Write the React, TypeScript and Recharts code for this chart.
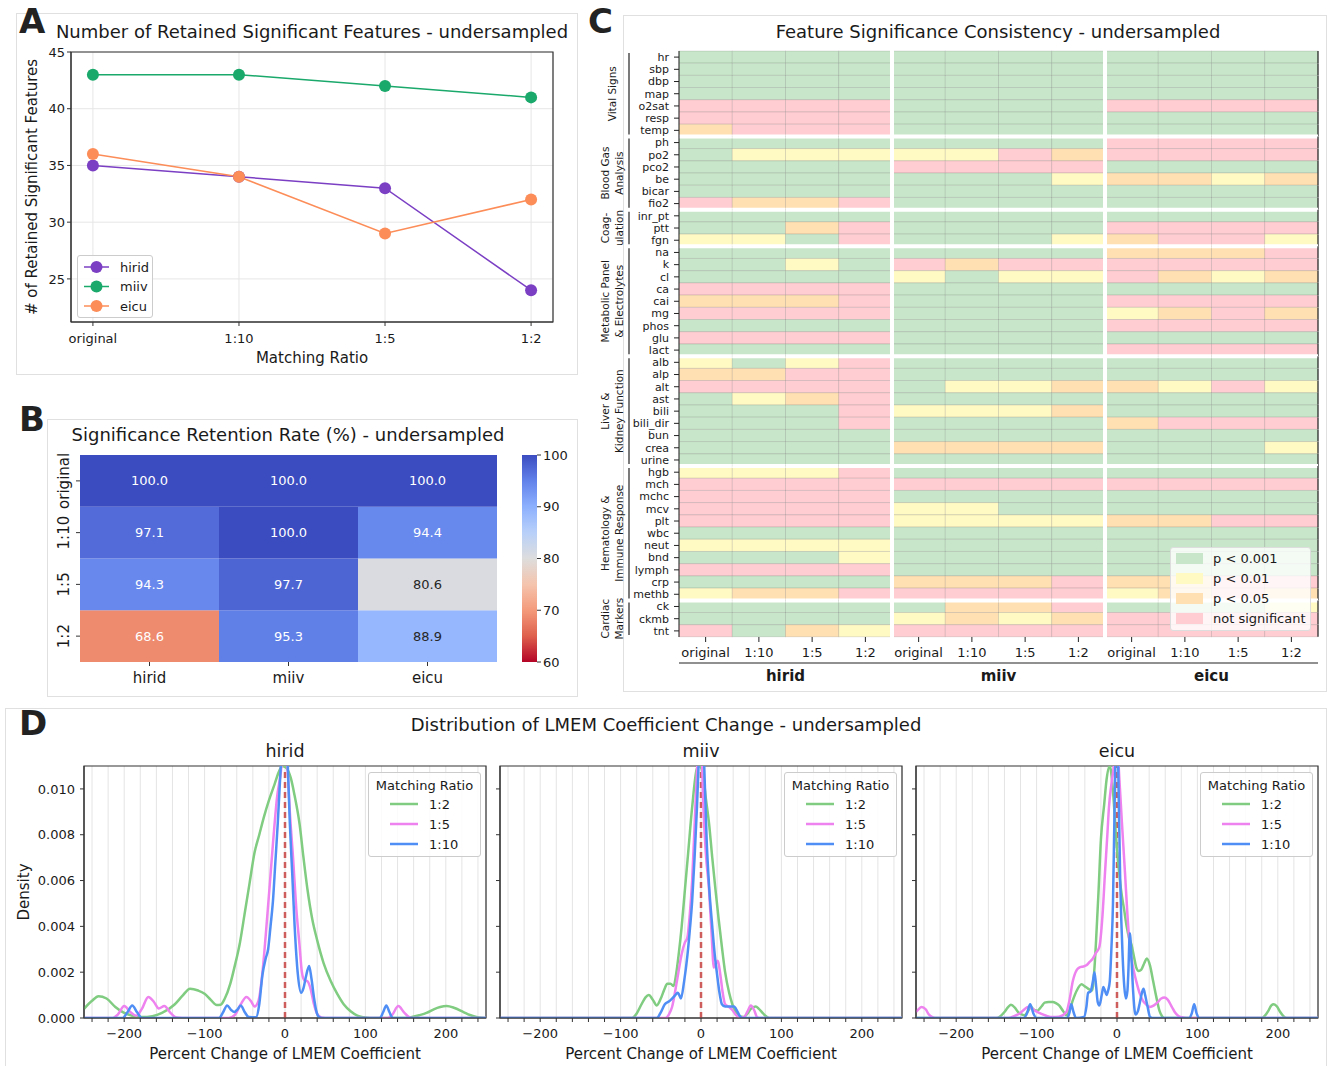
import React from 'react';
import {
  LineChart, Line, XAxis, YAxis, CartesianGrid, BarChart, Bar, Cell, LabelList,
  ReferenceLine, ReferenceArea,
} from 'recharts';

const FONT = '"DejaVu Sans", "Liberation Sans", Arial, sans-serif';
const TXT = '#1a1a1a';

// ---------------- Panel A data ----------------
const ratioLabels = ['original', '1:10', '1:5', '1:2'];
const hiridRetained = [35, 34, 33, 24];
const miivRetained = [43, 43, 42, 41];
const eicuRetained = [36, 34, 29, 32];
const lineColors = ['#7b3fc4', '#1aa86b', '#fc8d59'];

// ---------------- Panel B data ----------------
const datasetNames = ['hirid', 'miiv', 'eicu'];
const rateOriginal = [100.0, 100.0, 100.0];
const rate1to10 = [97.1, 100.0, 94.4];
const rate1to5 = [94.3, 97.7, 80.6];
const rate1to2 = [68.6, 95.3, 88.9];
const colorbarTicks = [100, 90, 80, 70, 60];

// ---------------- Panel C data ----------------
const featureNames = ['hr', 'sbp', 'dbp', 'map', 'o2sat', 'resp', 'temp', 'ph', 'po2', 'pco2', 'be', 'bicar', 'fio2',
  'inr_pt', 'ptt', 'fgn', 'na', 'k', 'cl', 'ca', 'cai', 'mg', 'phos', 'glu', 'lact', 'alb', 'alp', 'alt', 'ast', 'bili',
  'bili_dir', 'bun', 'crea', 'urine', 'hgb', 'mch', 'mchc', 'mcv', 'plt', 'wbc', 'neut', 'bnd', 'lymph', 'crp', 'methb',
  'ck', 'ckmb', 'tnt'];
const groupLabels = [['Vital Signs'], ['Blood Gas', 'Analysis'], ['Coag-', 'ulation'], ['Metabolic Panel', '& Electrolytes'],
  ['Liver &', 'Kidney Function'], ['Hematology &', 'Immune Response'], ['Cardiac', 'Markers']];
const groupSizes = [7, 6, 3, 9, 9, 11, 3];
// G: p<0.001, Y: p<0.01, O: p<0.05, R: not significant ; columns original, 1:10, 1:5, 1:2
const hiridSignificance = ['GGGG', 'GGGG', 'GGGG', 'GGGG', 'RRRR', 'RRRR', 'ORRR', 'GGGG', 'GYYY', 'GGGG', 'GGGG', 'GGGG', 'ROOR',
  'GGGG', 'GGOR', 'YYGR', 'GGGG', 'GGYG', 'GGGG', 'RRRR', 'OOOR', 'RRRR', 'GGGG', 'RRRR', 'GGGG', 'YGYR', 'OORR', 'RRRR', 'GYOR',
  'GGGR', 'GGGR', 'GGGG', 'GGGG', 'GGGG', 'YYYR', 'RRRR', 'RRRR', 'RRRR', 'RRRR', 'GGGG', 'YYYY', 'GGGY', 'RRRR', 'GGGG', 'YOOR',
  'GGGG', 'GGGG', 'RGOY'];
const miivSignificance = ['GGGG', 'GGGG', 'GGGG', 'GGGG', 'GGGG', 'GGGG', 'GGGG', 'GGGG', 'YYRO', 'RRRR', 'GGGY', 'GGGG', 'GGGG',
  'GGGG', 'GGGG', 'GGGY', 'GGGG', 'RORR', 'YGYY', 'GGGG', 'GGGG', 'GGGG', 'GGGG', 'GGGG', 'GGGG', 'GGGG', 'GGGG', 'GYYO', 'GGGG',
  'YYYO', 'GGGG', 'GGGG', 'OOOO', 'GGGG', 'GGGG', 'RRRR', 'GGGG', 'YYGG', 'YYYY', 'GGGG', 'GGGG', 'GGGG', 'GGGG', 'OOOR', 'RRRR',
  'GOOR', 'YOYO', 'RRRR'];
const eicuSignificance = ['GGGG', 'GGGG', 'GGGG', 'GGGG', 'RRRR', 'GGGG', 'GGGG', 'RRRR', 'RRRR', 'GGGG', 'OOYO', 'GGGG', 'GGGG',
  'GGGG', 'RRRR', 'ORRY', 'OOOR', 'RRRR', 'ROYO', 'GGGG', 'RRRR', 'YORO', 'RRRR', 'GGGG', 'RRRR', 'GGGG', 'GGGG', 'OYRY', 'GGGG',
  'GGGG', 'ORRR', 'GGGG', 'GGGY', 'GGGG', 'GGGG', 'RRRR', 'GGGG', 'GGGG', 'OORR', 'GGGG', 'GGGG', 'GGGG', 'GGGG', 'OORR', 'YORO',
  'GGGY', 'RRRR', 'RRRR'];
const significanceCodes = ['G', 'Y', 'O', 'R'];
const significanceLabels = ['p < 0.001', 'p < 0.01', 'p < 0.05', 'not significant'];
const SIG_FILL: Record<string, string> = { G: '#c8e6c9', Y: '#fff9c4', O: '#ffe0b2', R: '#ffcdd2' };

// ---------------- Panel D data: [percent change, density x 1000] ----------------
const hiridDensity1to2: [number, number][] = [[-250, 0.40], [-240, 0.75], [-232, 0.95], [-222, 0.85], [-211, 0.48], [-200, 0.22],
  [-190, 0.10], [-178, 0.04], [-165, 0.08], [-153, 0.22], [-137, 0.60], [-128, 0.95], [-118, 1.28], [-108, 1.20], [-100, 1.06],
  [-92, 0.78], [-85, 0.57], [-80, 0.58], [-75, 0.84], [-68, 1.50], [-63, 2.2], [-56, 3.3], [-50, 4.6], [-44, 5.9], [-38, 7.2],
  [-32, 8.0], [-26, 8.8], [-20, 9.5], [-13, 10.2], [-7, 10.8], [-3, 11.0], [2, 10.9], [7, 10.5], [12, 9.7], [18, 8.5], [23, 7.0],
  [28, 5.6], [34, 4.3], [40, 3.4], [48, 2.4], [57, 1.6], [65, 1.05], [73, 0.60], [82, 0.28], [90, 0.10], [98, 0.03], [106, 0],
  [150, 0], [158, 0.04], [167, 0.12], [176, 0.22], [185, 0.38], [193, 0.48], [201, 0.52], [210, 0.45], [222, 0.26], [230, 0.13],
  [238, 0.05], [245, 0.01], [250, 0]];
const hiridDensity1to5: [number, number][] = [[-250, 0], [-215, 0], [-208, 0.15], [-200, 0.52], [-192, 0.25], [-185, 0.10],
  [-178, 0.40], [-170, 0.92], [-163, 0.70], [-157, 0.42], [-150, 0.52], [-143, 0.25], [-135, 0.02], [-128, 0], [-70, 0],
  [-62, 0.15], [-55, 0.60], [-48, 0.92], [-42, 0.72], [-38, 0.50], [-33, 0.75], [-28, 2.0], [-24, 3.6], [-19, 5.8], [-15, 7.6],
  [-10, 9.6], [-5, 10.8], [-2, 12.0], [0, 12.5], [3, 11.0], [6, 9.0], [10, 7.0], [14, 4.8], [18, 3.2], [21, 2.0], [24, 1.65],
  [28, 1.6], [32, 1.25], [36, 0.6], [40, 0.18], [45, 0.02], [50, 0], [128, 0], [133, 0.12], [141, 0.52], [148, 0.25], [155, 0.03],
  [160, 0], [250, 0]];
const hiridDensity1to10: [number, number][] = [[-250, 0], [-202, 0], [-196, 0.25], [-190, 0.55], [-184, 0.25], [-178, 0], [-82, 0],
  [-77, 0.25], [-72, 0.55], [-67, 0.35], [-63, 0.26], [-59, 0.38], [-55, 0.55], [-50, 0.25], [-45, 0.04], [-36, 0.03], [-32, 0.6],
  [-28, 1.9], [-24, 2.6], [-21, 3.0], [-18, 4.0], [-15, 5.1], [-12, 6.8], [-9, 8.5], [-6, 10.5], [-3, 12.5], [0, 16.0], [3, 11.5],
  [6, 8.5], [9, 6.3], [12, 4.0], [16, 1.9], [20, 1.1], [23, 1.3], [26, 1.8], [30, 2.27], [33, 1.7], [36, 0.9], [39, 0.3], [42, 0.05],
  [46, 0], [118, 0], [122, 0.25], [126, 0.55], [130, 0.25], [134, 0], [250, 0]];

const miivDensity1to2: [number, number][] = [[-250, 0], [-86, 0], [-80, 0.2], [-74, 0.6], [-69, 0.9], [-65, 1.0], [-60, 0.8],
  [-55, 0.55], [-50, 0.85], [-45, 1.3], [-42, 1.5], [-38, 1.5], [-34, 1.4], [-31, 1.9], [-28, 2.7], [-24, 4.0], [-20, 5.6],
  [-16, 7.2], [-11, 9.2], [-5, 10.9], [-2, 11.0], [3, 10.5], [6, 9.6], [10, 8.5], [14, 7.0], [18, 5.6], [22, 4.3], [26, 3.1],
  [30, 2.0], [35, 1.1], [39, 0.6], [43, 0.26], [48, 0.08], [53, 0.04], [58, 0.2], [62, 0.4], [68, 0.5], [72, 0.4], [76, 0.25],
  [80, 0.1], [85, 0], [250, 0]];
const miivDensity1to5: [number, number][] = [[-250, 0], [-44, 0], [-40, 0.15], [-36, 0.48], [-30, 1.6], [-24, 2.8], [-20, 3.3],
  [-17, 3.5], [-14, 4.5], [-11, 6.0], [-7, 9.2], [-4, 11.5], [-2, 13.0], [0, 12.5], [3, 9.2], [6, 7.2], [10, 5.6], [13, 3.8],
  [16, 2.2], [19, 2.4], [21, 2.5], [24, 1.9], [27, 1.1], [30, 0.6], [35, 0.48], [39, 0.35], [43, 0.15], [48, 0.04], [53, 0.03],
  [58, 0.3], [62, 0.55], [66, 0.35], [70, 0.03], [74, 0], [250, 0]];
const miivDensity1to10: [number, number][] = [[-250, 0], [-55, 0], [-50, 0.25], [-45, 0.6], [-40, 0.72], [-36, 0.85], [-32, 1.0],
  [-29, 1.1], [-27, 1.0], [-25, 0.85], [-21, 1.6], [-17, 2.7], [-14, 3.8], [-11, 5.1], [-8, 7.0], [-5, 9.2], [-2, 12.0], [1, 15.0],
  [4, 11.0], [7, 7.8], [10, 5.8], [14, 4.0], [17, 2.8], [20, 1.9], [23, 1.1], [26, 0.6], [30, 0.5], [35, 0.5], [41, 0.5], [45, 0.3],
  [48, 0.1], [51, 0], [250, 0]];

const eicuDensity1to2: [number, number][] = [[-250, 0], [-150, 0], [-145, 0.08], [-140, 0.26], [-136, 0.45], [-132, 0.58],
  [-127, 0.45], [-123, 0.26], [-118, 0.15], [-115, 0.12], [-111, 0.28], [-107, 0.48], [-103, 0.35], [-99, 0.32], [-94, 0.5],
  [-90, 0.67], [-85, 0.7], [-80, 0.7], [-76, 0.65], [-72, 0.55], [-67, 0.3], [-63, 0.12], [-59, 0.35], [-55, 0.77], [-50, 1.2],
  [-44, 1.47], [-40, 1.38], [-36, 1.28], [-31, 1.2], [-28, 2.2], [-26, 3.4], [-23, 5.5], [-20, 7.8], [-16, 9.3], [-13, 10.4],
  [-9, 11.0], [-5, 9.9], [-1, 7.8], [2, 6.6], [5, 5.6], [9, 4.7], [12, 4.0], [15, 3.5], [18, 3.2], [21, 2.7], [24, 2.2],
  [27, 2.05], [30, 2.1], [34, 2.4], [37, 2.6], [41, 2.3], [45, 1.6], [49, 0.9], [53, 0.3], [56, 0.08], [59, 0], [180, 0],
  [184, 0.1], [188, 0.3], [192, 0.55], [195, 0.6], [199, 0.5], [203, 0.26], [207, 0.08], [211, 0], [250, 0]];
const eicuDensity1to5: [number, number][] = [[-250, 0.26], [-247, 0.38], [-243, 0.48], [-238, 0.38], [-234, 0.15], [-229, 0.03],
  [-225, 0], [-135, 0], [-128, 0.08], [-121, 0.2], [-115, 0.38], [-111, 0.48], [-106, 0.42], [-101, 0.3], [-94, 0.18], [-88, 0.1],
  [-80, 0.04], [-72, 0.06], [-63, 0.26], [-59, 0.8], [-55, 1.6], [-50, 2.1], [-47, 2.2], [-42, 2.25], [-38, 2.3], [-34, 2.45],
  [-30, 2.6], [-26, 2.85], [-22, 3.1], [-18, 4.5], [-15, 6.3], [-12, 8.0], [-10, 9.2], [-7, 10.2], [-5, 10.7], [-2, 11.6],
  [0, 12.0], [3, 10.4], [6, 8.6], [10, 6.3], [13, 4.5], [16, 3.1], [20, 2.2], [24, 1.6], [28, 1.1], [32, 0.77], [36, 0.6],
  [41, 0.48], [46, 0.55], [51, 0.7], [55, 0.85], [59, 0.89], [63, 0.8], [68, 0.5], [72, 0.25], [76, 0.1], [81, 0.03], [86, 0],
  [250, 0]];
const eicuDensity1to10: [number, number][] = [[-250, 0], [-116, 0], [-112, 0.2], [-108, 0.6], [-104, 0.2], [-100, 0], [-62, 0],
  [-59, 0.25], [-57, 0.6], [-54, 0.25], [-51, 0], [-41, 0.05], [-38, 0.5], [-36, 1.1], [-33, 1.15], [-30, 1.6], [-28, 2.0],
  [-26, 1.4], [-24, 0.7], [-22, 0.55], [-19, 1.0], [-17, 1.35], [-15, 1.2], [-13, 1.0], [-11, 1.2], [-9, 1.6], [-7, 3.0],
  [-5, 5.0], [-3, 9.2], [0, 14.0], [2, 10.0], [4, 6.0], [7, 2.7], [9, 1.4], [11, 0.85], [13, 1.2], [14, 1.9], [16, 3.7],
  [18, 2.6], [20, 1.2], [23, 0.15], [26, 0.3], [28, 0.6], [31, 1.1], [33, 1.28], [35, 1.0], [38, 0.5], [41, 0.05], [44, 0],
  [90, 0], [93, 0.2], [96, 0.6], [99, 0.2], [102, 0], [250, 0]];

const densityRatioLabels = ['1:2', '1:5', '1:10'];
const densityColors = ['#80cc80', '#ee82ee', '#4f8ef5'];
const densityXTicks = [-240, -220, -200, -180, -160, -140, -120, -100, -80, -60, -40, -20, 0, 20, 40, 60, 80, 100, 120, 140,
  160, 180, 200, 220, 240];
const densityYTicks = [0, 0.002, 0.004, 0.006, 0.008, 0.010];

// ---------------- helpers ----------------
const COOLWARM = [[59, 76, 192], [98, 130, 234], [141, 176, 254], [184, 208, 249], [221, 221, 221], [245, 196, 173],
  [244, 154, 123], [222, 96, 77], [180, 4, 38]];
function coolwarmR(v: number) {
  const t = Math.min(1, Math.max(0, (100 - v) / 40));
  const p = t * 8;
  const i = Math.min(7, Math.floor(p));
  const f = p - i;
  const a = COOLWARM[i], b = COOLWARM[i + 1];
  const c = a.map((av, k) => Math.round(av + (b[k] - av) * f));
  return `rgb(${c[0]},${c[1]},${c[2]})`;
}
const fmtMinus = (v: number) => (v < 0 ? '\u2212' + Math.abs(v) : String(v));

// ---------------- Panel A ----------------
const panelAData = ratioLabels.map((r, i) => ({ idx: i, hirid: hiridRetained[i], miiv: miivRetained[i], eicu: eicuRetained[i] }));

function PanelA() {
  const keys = ['hirid', 'miiv', 'eicu'];
  return (
    <div style={{ position: 'absolute', left: 16, top: 13 }}>
      <LineChart width={562} height={362} data={panelAData} margin={{ top: 39, right: 25, bottom: 0, left: 0 }}>
        <CartesianGrid stroke="#e6e6e6" />
        <XAxis dataKey="idx" type="number" domain={[-0.15, 3.15]} ticks={[0, 1, 2, 3]} interval={0}
          tickFormatter={(v: number) => ratioLabels[v]} height={53} allowDataOverflow stroke="#333"
          tickSize={4} tickMargin={8} tick={{ fontSize: 13, fill: TXT, fontFamily: FONT }} />
        <YAxis type="number" domain={[21.2, 45]} ticks={[25, 30, 35, 40, 45]} interval={0} width={55} allowDataOverflow
          stroke="#333" tickSize={4} tickMargin={2} tick={{ fontSize: 13, fill: TXT, fontFamily: FONT }} />
        <ReferenceArea x1={-0.15} x2={3.15} y1={21.2} y2={45} fill="none" stroke="#333" strokeWidth={1.2} />
        {keys.map((k, i) => (
          <Line key={k} dataKey={k} stroke={lineColors[i]} strokeWidth={1.5} isAnimationActive={false}
            dot={{ r: 6, fill: lineColors[i], stroke: lineColors[i], strokeWidth: 0 }} />
        ))}
      </LineChart>
      <div style={{ position: 'absolute', left: 61, top: 242, width: 74, height: 61, border: '1px solid #ccc', borderRadius: 3,
        background: 'rgba(255,255,255,0.85)' }}>
        <svg width={74} height={61}>
          {keys.map((k, i) => (
            <g key={k}>
              <line x1={6} x2={31} y1={11 + i * 19.5} y2={11 + i * 19.5} stroke={lineColors[i]} strokeWidth={1.5} />
              <circle cx={18.5} cy={11 + i * 19.5} r={6} fill={lineColors[i]} />
              <text x={42} y={11 + i * 19.5} dy="0.35em" fontSize={13} fill={TXT} fontFamily={FONT}>{k}</text>
            </g>
          ))}
        </svg>
      </div>
    </div>
  );
}

// ---------------- Panel B ----------------
const panelBData = datasetNames.map((d, i) => ({
  name: d, s12: 1, s15: 1, s110: 1, sorig: 1,
  v12: rate1to2[i], v15: rate1to5[i], v110: rate1to10[i], vorig: rateOriginal[i],
}));
const bRowLabels: Record<string, string> = { '3.5': 'original', '2.5': '1:10', '1.5': '1:5', '0.5': '1:2' };

function BYTick(props: any) {
  const { x, y, payload } = props;
  const bx = x - 5;
  return (
    <text x={bx} y={y} transform={`rotate(-90 ${bx} ${y})`} textAnchor="middle" fontSize={15} fill={TXT}
      fontFamily={FONT}>{bRowLabels[String(payload.value)]}</text>
  );
}

function CellLabel(props: any) {
  const { x, y, width, height, value } = props;
  const dark = value > 78 && value < 91;
  return (
    <text x={x + width / 2} y={y + height / 2} dy="0.35em" textAnchor="middle" fontSize={13}
      fill={dark ? '#262626' : '#ffffff'} fontFamily={FONT}>{Number(value).toFixed(1)}</text>
  );
}

function PanelB() {
  const segs = [['s12', 'v12', rate1to2], ['s15', 'v15', rate1to5], ['s110', 'v110', rate1to10], ['sorig', 'vorig', rateOriginal]] as const;
  return (
    <div style={{ position: 'absolute', left: 47, top: 419 }}>
      <BarChart width={531} height={278} data={panelBData} margin={{ top: 36, right: 81, bottom: 0, left: 0 }}
        barCategoryGap={0} barGap={0}>
        <XAxis dataKey="name" height={35} axisLine={false} tickSize={4} tickMargin={6} stroke="#333" interval={0}
          tick={{ fontSize: 15, fill: TXT, fontFamily: FONT }} />
        <YAxis type="number" domain={[0, 4]} ticks={[0.5, 1.5, 2.5, 3.5]} interval={0} width={33} axisLine={false}
          tickSize={4} stroke="#333" tick={<BYTick />} />
        {segs.map(([k, vk, arr]) => (
          <Bar key={k} dataKey={k} stackId="b" isAnimationActive={false}>
            {arr.map((v, i) => <Cell key={i} fill={coolwarmR(v)} />)}
            <LabelList dataKey={vk} content={<CellLabel />} />
          </Bar>
        ))}
      </BarChart>
    </div>
  );
}

// ---------------- Panel C ----------------
const C_PLOT_W = 639;
const C_PLOT_H = 586;
const C_ROW_H = C_PLOT_H / featureNames.length;
const C_COL_W = C_PLOT_W / 12;
const groupStarts: number[] = [];
{
  let acc = 0;
  groupSizes.forEach((s) => { groupStarts.push(acc); acc += s; });
}
const heatRows = featureNames.map((f, r) => {
  const row: any = {
    feature: f,
    codes: hiridSignificance[r] + miivSignificance[r] + eicuSignificance[r],
    groupStart: r > 0 && groupStarts.includes(r),
  };
  for (let c = 0; c < 12; c++) row['c' + c] = 1;
  return row;
});
const cTicks = Array.from({ length: 12 }, (_, i) => i + 0.5);

function makeHeatCell(col: number) {
  return (props: any) => {
    const { x, y, width, height } = props;
    const row = props.payload && props.payload.codes ? props.payload : heatRows[props.index];
    if (!row) return null;
    const code = row.codes[col];
    return (
      <g>
        <rect x={x} y={y} width={width} height={height} fill={SIG_FILL[code]} stroke="#000" strokeOpacity={0.13}
          strokeWidth={0.8} />
        {row.groupStart && <line x1={x} x2={x + width} y1={y} y2={y} stroke="#fff" strokeWidth={4} />}
        {(col === 4 || col === 8) && <line x1={x} x2={x} y1={y - 2} y2={y + height + 2} stroke="#fff" strokeWidth={4} />}
        {col === 11 && <line x1={x + width} x2={x + width} y1={y} y2={y + height} stroke="#222" strokeWidth={1.2} />}
      </g>
    );
  };
}

function FeatureTick(props: any) {
  const { x, y, payload } = props;
  const r = featureNames.indexOf(payload.value);
  const gi = groupStarts.indexOf(r);
  let group: any = null;
  if (gi >= 0) {
    const top = y - C_ROW_H / 2;
    const bottom = top + groupSizes[gi] * C_ROW_H;
    const cy = (top + bottom) / 2;
    const lines = groupLabels[gi];
    const xs = lines.length === 1 ? [22] : [15, 29];
    group = (
      <g>
        <line x1={39} x2={39} y1={top + 2} y2={bottom - 2} stroke="#222" strokeWidth={1.2} />
        {lines.map((t, i) => (
          <text key={i} x={xs[i]} y={cy} transform={`rotate(-90 ${xs[i]} ${cy})`} textAnchor="middle"
            dominantBaseline="central" fontSize={10.5} fill={TXT} fontFamily={FONT}>{t}</text>
        ))}
      </g>
    );
  }
  return (
    <g>
      <text x={x - 2} y={y} dy="0.35em" textAnchor="end" fontSize={11} fill={TXT} fontFamily={FONT}>{payload.value}</text>
      {group}
    </g>
  );
}

function ColumnTick(props: any) {
  const { x, y, payload } = props;
  const c = Math.floor(payload.value);
  return (
    <g>
      <text x={x} y={y} dy="0.71em" textAnchor="middle" fontSize={13} fill={TXT} fontFamily={FONT}>{ratioLabels[c % 4]}</text>
      {c % 4 === 1 && (
        <text x={x + C_COL_W / 2} y={y + 22} dy="0.71em" textAnchor="middle" fontSize={15} fontWeight="bold" fill={TXT}
          fontFamily={FONT}>{datasetNames[Math.floor(c / 4)]}</text>
      )}
      {c === 0 && (
        <line x1={x - C_COL_W / 2} x2={x - C_COL_W / 2 + C_PLOT_W} y1={y + 15} y2={y + 15} stroke="#222" strokeWidth={1.2} />
      )}
    </g>
  );
}

function PanelC() {
  return (
    <div style={{ position: 'absolute', left: 590, top: 15 }}>
      <BarChart width={737} height={677} data={heatRows} layout="vertical" margin={{ top: 36, right: 9, bottom: 0, left: 0 }}
        barCategoryGap={0} barGap={0}>
        <XAxis type="number" domain={[0, 12]} ticks={cTicks} interval={0} height={55} axisLine={false} tickSize={5}
          tickMargin={6} stroke="#222" tick={<ColumnTick />} />
        <YAxis type="category" dataKey="feature" width={89} interval={0} stroke="#222" tickSize={5} tickMargin={3}
          tick={<FeatureTick />} />
        {Array.from({ length: 12 }, (_, c) => (
          <Bar key={c} dataKey={'c' + c} stackId="h" isAnimationActive={false} shape={makeHeatCell(c)} />
        ))}
      </BarChart>
      <div style={{ position: 'absolute', left: 580, top: 532, width: 139, height: 82, border: '1px solid #ddd',
        borderRadius: 3, background: 'rgba(255,255,255,0.8)' }}>
        <svg width={139} height={82}>
          {significanceCodes.map((c, i) => (
            <g key={c}>
              <rect x={5} y={5 + i * 20} width={27} height={11} fill={SIG_FILL[c]} />
              <text x={42} y={10.5 + i * 20} dy="0.35em" fontSize={13} fill={TXT} fontFamily={FONT}>{significanceLabels[i]}</text>
            </g>
          ))}
        </svg>
      </div>
    </div>
  );
}

// ---------------- Panel D ----------------
const densitySets: Record<string, [number, number][][]> = {
  hirid: [hiridDensity1to2, hiridDensity1to5, hiridDensity1to10],
  miiv: [miivDensity1to2, miivDensity1to5, miivDensity1to10],
  eicu: [eicuDensity1to2, eicuDensity1to5, eicuDensity1to10],
};

function DensityPanel({ name, left, showY }: { name: string; left: number; showY: boolean }) {
  const series = densitySets[name].map((arr) => arr.map(([x, d]) => ({ x, y: d / 1000 })));
  return (
    <div style={{ position: 'absolute', left, top: 740 }}>
      <LineChart width={500} height={326} margin={{ top: 26, right: 14, bottom: 0, left: 0 }}>
        <CartesianGrid horizontal={false} stroke="#e4e4e4" />
        <XAxis type="number" dataKey="x" domain={[-250, 250]} ticks={densityXTicks} interval={0} allowDataOverflow height={48}
          stroke="#333" tickSize={4} tickMargin={7} tickFormatter={(v: number) => (v % 100 === 0 ? fmtMinus(v) : '')}
          tick={{ fontSize: 13, fill: TXT, fontFamily: FONT }} />
        <YAxis type="number" domain={[0, 0.011]} ticks={densityYTicks} interval={0} allowDataOverflow width={84} stroke="#333"
          tickSize={4} tickMargin={5} tickFormatter={(v: number) => (showY ? v.toFixed(3) : '')}
          tick={{ fontSize: 13, fill: TXT, fontFamily: FONT }} />
        <ReferenceLine x={0} stroke="#cd5c5c" strokeWidth={2.5} strokeDasharray="6 4" />
        {series.map((s, i) => (
          <Line key={i} data={s} dataKey="y" type="monotone" stroke={densityColors[i]} strokeWidth={2.5} dot={false}
            isAnimationActive={false} />
        ))}
        <ReferenceArea x1={-250} x2={250} y1={0} y2={0.011} fill="none" stroke="#333" strokeWidth={1.2} />
      </LineChart>
      <div style={{ position: 'absolute', left: 368, top: 32, width: 111, height: 83, border: '1px solid #ccc', borderRadius: 3,
        background: 'rgba(255,255,255,0.85)' }}>
        <svg width={111} height={83}>
          <text x={55.5} y={12} dy="0.35em" textAnchor="middle" fontSize={13} fill={TXT} fontFamily={FONT}>Matching Ratio</text>
          {densityRatioLabels.map((r, i) => (
            <g key={r}>
              <line x1={21} x2={49} y1={31 + i * 20} y2={31 + i * 20} stroke={densityColors[i]} strokeWidth={2.5} />
              <text x={60} y={31 + i * 20} dy="0.35em" fontSize={13} fill={TXT} fontFamily={FONT}>{r}</text>
            </g>
          ))}
        </svg>
      </div>
    </div>
  );
}

// ---------------- Overlay (frames, titles, colorbar) ----------------
function Overlay() {
  const cbTop = 455, cbH = 207, cbX = 522, cbW = 15;
  const cbY = (v: number) => cbTop + ((100 - v) / 40) * cbH;
  const title = { fontSize: 18, fill: TXT, fontFamily: FONT, textAnchor: 'middle' as const };
  const axisT = { fontSize: 15, fill: TXT, fontFamily: FONT, textAnchor: 'middle' as const };
  const letter = { fontSize: 34, fontWeight: 'bold' as const, fill: '#222', fontFamily: FONT };
  return (
    <svg width={1328} height={1066} style={{ position: 'absolute', left: 0, top: 0 }}>
      <defs>
        <linearGradient id="cbgrad" x1="0" y1="0" x2="0" y2="1">
          {COOLWARM.map((c, i) => (
            <stop key={i} offset={`${(i / 8) * 100}%`} stopColor={`rgb(${c[0]},${c[1]},${c[2]})`} />
          ))}
        </linearGradient>
      </defs>
      <rect x={16.5} y={13.5} width={561} height={361} fill="none" stroke="#e0e0e0" />
      <rect x={47.5} y={419.5} width={530} height={277} fill="none" stroke="#e0e0e0" />
      <rect x={623.5} y={15.5} width={703} height={676} fill="none" stroke="#e0e0e0" />
      <rect x={5.5} y={708.5} width={1321} height={370} fill="none" stroke="#e0e0e0" />

      <text x={19} y={33} {...letter}>A</text>
      <text x={19} y={431} {...letter}>B</text>
      <text x={588} y={33} {...letter}>C</text>
      <text x={19} y={735} {...letter}>D</text>

      <text x={312} y={38} {...title}>Number of Retained Significant Features - undersampled</text>
      <text x={288} y={441} {...title}>Significance Retention Rate (%) - undersampled</text>
      <text x={998} y={38} {...title}>Feature Significance Consistency - undersampled</text>
      <text x={666} y={731} {...title}>Distribution of LMEM Coefficient Change - undersampled</text>
      <text x={285} y={757} {...title} fontSize={17.5}>hirid</text>
      <text x={701} y={757} {...title} fontSize={17.5}>miiv</text>
      <text x={1117} y={757} {...title} fontSize={17.5}>eicu</text>

      <text x={312} y={363} {...axisT}>Matching Ratio</text>
      <text x={37} y={187} {...axisT} transform="rotate(-90 37 187)"># of Retained Significant Features</text>
      <text x={29} y={892} {...axisT} transform="rotate(-90 29 892)">Density</text>
      <text x={285} y={1059} {...axisT}>Percent Change of LMEM Coefficient</text>
      <text x={701} y={1059} {...axisT}>Percent Change of LMEM Coefficient</text>
      <text x={1117} y={1059} {...axisT}>Percent Change of LMEM Coefficient</text>

      <rect x={cbX} y={cbTop} width={cbW} height={cbH} fill="url(#cbgrad)" />
      {colorbarTicks.map((v) => (
        <g key={v}>
          <line x1={cbX + cbW} x2={cbX + cbW + 4} y1={cbY(v)} y2={cbY(v)} stroke="#333" />
          <text x={cbX + cbW + 6} y={cbY(v)} dy="0.35em" fontSize={13} fill={TXT} fontFamily={FONT}>{v}</text>
        </g>
      ))}
    </svg>
  );
}

export default function App() {
  return (
    <div style={{ position: 'absolute', left: 0, top: 0, width: 1328, height: 1066, background: '#fff', fontFamily: FONT,
      overflow: 'hidden' }}>
      <Overlay />
      <PanelA />
      <PanelB />
      <PanelC />
      <DensityPanel name="hirid" left={0} showY />
      <DensityPanel name="miiv" left={416} showY={false} />
      <DensityPanel name="eicu" left={832} showY={false} />
    </div>
  );
}
